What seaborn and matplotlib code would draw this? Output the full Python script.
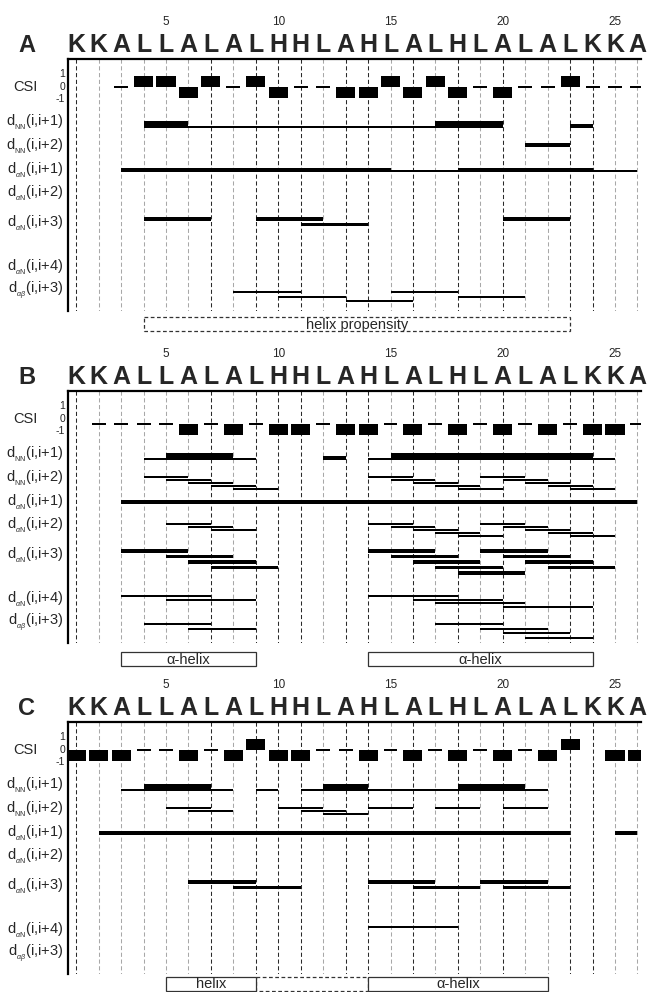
import numpy as np
import matplotlib
matplotlib.use('Agg')
import matplotlib.pyplot as plt
from matplotlib.patches import Rectangle
import seaborn as sns

sns.set_style('white')
plt.rcParams['font.family'] = ['Liberation Sans', 'DejaVu Sans']
plt.rcParams['mathtext.fontset'] = 'custom'
plt.rcParams['mathtext.rm'] = 'Liberation Sans'
plt.rcParams['mathtext.it'] = 'Liberation Sans:italic'
plt.rcParams['mathtext.bf'] = 'Liberation Sans:bold'

# sequence
residues = list("KKALLALALHHLAHLALHLALALKKA")
tick_numbers = [5, 10, 15, 20, 25]
nan = np.nan

# chemical shift index per residue (nan = not assigned)
csi_A = [nan, nan, 0, 1, 1, -1, 1, 0, 1, -1, 0, 0, -1, -1, 1, -1, 1, -1, 0, -1, 0, 0, 1, 0, 0, 0]
csi_B = [nan, 0, 0, 0, 0, -1, 0, -1, 0, -1, -1, 0, -1, -1, 0, -1, 0, -1, 0, -1, 0, -1, 0, -1, -1, 0]
csi_C = [-1, -1, -1, 0, 0, -1, 0, -1, 1, -1, -1, 0, 0, -1, 0, -1, 0, -1, 0, -1, 0, -1, 1, nan, -1, -1]

# NOE connectivities: (row, from residue, to residue, strength s/m/w, stack level)
conn_A = [
    ('dNN1', 4, 6, 's', 0), ('dNN1', 6, 17, 'w', 0), ('dNN1', 17, 20, 's', 0), ('dNN1', 23, 24, 'm', 0),
    ('dNN2', 21, 23, 'm', 0),
    ('daN1', 3, 15, 'm', 0), ('daN1', 15, 18, 'w', 0), ('daN1', 18, 24, 'm', 0), ('daN1', 24, 26, 'w', 0),
    ('daN3', 4, 7, 'm', 0), ('daN3', 9, 12, 'm', 0), ('daN3', 11, 14, 'm', 1), ('daN3', 20, 23, 'm', 0),
    ('dab3', 8, 11, 'w', 0), ('dab3', 10, 13, 'w', 1), ('dab3', 13, 16, 'w', 2),
    ('dab3', 15, 18, 'w', 0), ('dab3', 18, 21, 'w', 1),
]
conn_B = [
    ('dNN1', 4, 5, 'w', 0), ('dNN1', 5, 8, 's', 0), ('dNN1', 8, 9, 'w', 0), ('dNN1', 12, 13, 'm', 0),
    ('dNN1', 14, 15, 'w', 0), ('dNN1', 15, 24, 's', 0), ('dNN1', 24, 25, 'w', 0),
    ('dNN2', 4, 6, 'w', 0), ('dNN2', 5, 7, 'w', 1), ('dNN2', 6, 8, 'w', 2), ('dNN2', 7, 9, 'w', 3), ('dNN2', 8, 10, 'w', 4),
    ('dNN2', 14, 16, 'w', 0), ('dNN2', 15, 17, 'w', 1), ('dNN2', 16, 18, 'w', 2), ('dNN2', 17, 19, 'w', 3),
    ('dNN2', 18, 20, 'w', 4), ('dNN2', 19, 21, 'w', 0), ('dNN2', 20, 22, 'w', 1), ('dNN2', 21, 23, 'w', 2),
    ('dNN2', 22, 24, 'w', 3), ('dNN2', 23, 25, 'w', 4),
    ('daN1', 3, 26, 'm', 0),
    ('daN2', 5, 7, 'w', 0), ('daN2', 6, 8, 'w', 1), ('daN2', 7, 9, 'w', 2),
    ('daN2', 14, 16, 'w', 0), ('daN2', 15, 17, 'w', 1), ('daN2', 16, 18, 'w', 2), ('daN2', 17, 19, 'w', 3),
    ('daN2', 18, 20, 'w', 4), ('daN2', 19, 21, 'w', 0), ('daN2', 20, 22, 'w', 1), ('daN2', 21, 23, 'w', 2),
    ('daN2', 22, 24, 'w', 3), ('daN2', 23, 25, 'w', 4),
    ('daN3', 3, 6, 'm', 0), ('daN3', 5, 8, 'm', 1), ('daN3', 6, 9, 'm', 2), ('daN3', 7, 10, 'm', 3),
    ('daN3', 14, 17, 'm', 0), ('daN3', 15, 18, 'm', 1), ('daN3', 16, 19, 'm', 2), ('daN3', 17, 20, 'm', 3),
    ('daN3', 18, 21, 'm', 4), ('daN3', 19, 22, 'm', 0), ('daN3', 20, 23, 'm', 1), ('daN3', 21, 24, 'm', 2),
    ('daN3', 22, 25, 'm', 3),
    ('daN4', 3, 7, 'w', 0), ('daN4', 5, 9, 'w', 1), ('daN4', 14, 18, 'w', 0), ('daN4', 16, 20, 'w', 1),
    ('daN4', 17, 21, 'w', 2), ('daN4', 20, 24, 'w', 3),
    ('dab3', 4, 7, 'w', 0), ('dab3', 6, 9, 'w', 1), ('dab3', 17, 20, 'w', 0), ('dab3', 19, 22, 'w', 1),
    ('dab3', 20, 23, 'w', 2), ('dab3', 21, 24, 'w', 3),
]
conn_C = [
    ('dNN1', 3, 4, 'w', 0), ('dNN1', 4, 7, 's', 0), ('dNN1', 7, 8, 'w', 0), ('dNN1', 9, 10, 'w', 0),
    ('dNN1', 11, 12, 'w', 0), ('dNN1', 12, 14, 's', 0), ('dNN1', 14, 18, 'w', 0), ('dNN1', 18, 21, 's', 0),
    ('dNN1', 21, 22, 'w', 0),
    ('dNN2', 5, 7, 'w', 0), ('dNN2', 6, 8, 'w', 1), ('dNN2', 10, 12, 'w', 0), ('dNN2', 11, 13, 'w', 1),
    ('dNN2', 12, 14, 'w', 2), ('dNN2', 14, 16, 'w', 0), ('dNN2', 17, 19, 'w', 0), ('dNN2', 20, 22, 'w', 0),
    ('daN1', 2, 23, 'm', 0), ('daN1', 25, 26, 'm', 0),
    ('daN3', 6, 9, 'm', 0), ('daN3', 8, 11, 'm', 1), ('daN3', 14, 17, 'm', 0), ('daN3', 16, 19, 'm', 1),
    ('daN3', 19, 22, 'm', 0), ('daN3', 20, 23, 'm', 1),
    ('daN4', 14, 18, 'w', 0),
]

# secondary structure boxes: (from, to, text, style)
boxes_A = [(4, 23, 'helix propensity', 'dashed')]
boxes_B = [(3, 9, 'α-helix', 'solid'), (14, 24, 'α-helix', 'solid')]
boxes_C = [(9, 14, '', 'dashed'), (5, 9, 'helix', 'solid'), (14, 22, 'α-helix', 'solid')]

dark_grid = [1, 7, 9, 10, 11, 13, 14, 16, 18, 20, 23, 24]

# ---- layout (pixels) ----
W, H = 648, 992
ax_left, ax_right, ax_h = 68, 641, 252
panel_tops = [59, 391, 722]
csi_zero = [28, 33, 28]
box_top = [258, 261, 255]
res1_px, step_px = 76.2, 22.45


def px2x(px):
    return 1 + (px - res1_px) / step_px


row_labels = {
    'CSI': ('CSI', 28),
    'dNN1': (r'd$_{_{\rm NN}}$(i,i+1)', 63),
    'dNN2': (r'd$_{_{\rm NN}}$(i,i+2)', 87),
    'daN1': (r'd$_{_{\alpha\rm N}}$(i,i+1)', 111),
    'daN2': (r'd$_{_{\alpha\rm N}}$(i,i+2)', 134),
    'daN3': (r'd$_{_{\alpha\rm N}}$(i,i+3)', 164),
    'daN4': (r'd$_{_{\alpha\rm N}}$(i,i+4)', 208),
    'dab3': (r'd$_{_{\alpha\beta}}$(i,i+3)', 231),
}
row_base = {'dNN1': 69, 'dNN2': 86, 'daN1': 113, 'daN2': 133, 'daN3': 160, 'daN4': 205, 'dab3': 233}
row_step = {'dNN1': 0, 'dNN2': 3, 'daN1': 0, 'daN2': 3, 'daN3': 5.5, 'daN4': 3.5, 'dab3': 4.5}
bottom_aligned = {'dNN1', 'daN1'}
thick = {'s': 7.0, 'm': 3.6, 'w': 2.0}

fig = plt.figure(figsize=(W / 100, H / 100), dpi=100)

panels = [('A', csi_A, conn_A, boxes_A), ('B', csi_B, conn_B, boxes_B), ('C', csi_C, conn_C, boxes_C)]
pos = np.arange(1, len(residues) + 1)

for k, (name, csi, conns, boxes) in enumerate(panels):
    top = panel_tops[k]
    ax = fig.add_axes([ax_left / W, 1 - (top + ax_h) / H, (ax_right - ax_left) / W, ax_h / H])
    ax.set_xlim(px2x(ax_left), px2x(ax_right))
    ax.set_ylim(ax_h, 0)
    ax.set_xticks([])
    ax.set_yticks([])
    for s in ['right', 'bottom']:
        ax.spines[s].set_visible(False)
    for s in ['left', 'top']:
        ax.spines[s].set_linewidth(1.6)
        ax.spines[s].set_color('black')

    # residue grid (behind the marks)
    gcol = ['#2a2a2a' if r in dark_grid else '#a8a8a8' for r in pos]
    ax.vlines(pos, 0, ax_h, colors=gcol, linewidth=0.75, linestyles=[(0, (4, 2.5))], zorder=0.5)

    # sequence + numbering
    for r, aa in zip(pos, residues):
        ax.text(r, -7, aa, ha='center', va='baseline', fontsize=18, fontweight='bold', clip_on=False)
    for n in tick_numbers:
        ax.text(n, -34, str(n), ha='center', va='baseline', fontsize=8.5, clip_on=False)
    ax.text(px2x(27), -7, name, ha='center', va='baseline', fontsize=17, fontweight='bold', clip_on=False)

    # row labels
    for key, (lab, y) in row_labels.items():
        if key == 'CSI':
            ax.text(px2x(13), y, lab, ha='left', va='center', fontsize=10.5, clip_on=False)
        else:
            ax.text(px2x(63), y, lab, ha='right', va='center', fontsize=10.5, clip_on=False)
    for val, yy in zip(['1', '0', '-1'], [15, 28, 40]):
        ax.text(px2x(65), yy, val, ha='right', va='center', fontsize=7.5, clip_on=False)

    # CSI
    z = csi_zero[k]
    csi = np.array(csi, dtype=float)
    up = csi == 1
    dn = csi == -1
    zero = csi == 0
    ax.bar(pos[up], -11, bottom=z, width=0.85, color='black', linewidth=0, zorder=2)
    ax.bar(pos[dn], 11, bottom=z, width=0.85, color='black', linewidth=0, zorder=2)
    ax.bar(pos[zero], 2.4, bottom=z - 1.2, width=0.62, color='black', linewidth=0, zorder=2)

    # connectivities
    for row, i0, i1, st, lev in conns:
        h = thick[st]
        if row in bottom_aligned:
            yb = row_base[row]
        else:
            yb = row_base[row] + row_step[row] * lev + h / 2
        ax.bar(i0, -h, bottom=yb, width=i1 - i0, align='edge', color='black', linewidth=0, zorder=2)

    # secondary structure boxes
    for i0, i1, txt, style in boxes:
        ls = (0, (3, 2)) if style == 'dashed' else '-'
        rect = Rectangle((i0, box_top[k]), i1 - i0, 14, fill=True, facecolor='white',
                         edgecolor='#333333', linewidth=0.9, linestyle=ls, clip_on=False)
        ax.add_patch(rect)
        if txt:
            ax.text((i0 + i1) / 2, box_top[k] + 7.5, txt, ha='center', va='center', fontsize=10.5, clip_on=False)

fig.savefig('out.png', dpi=100)
